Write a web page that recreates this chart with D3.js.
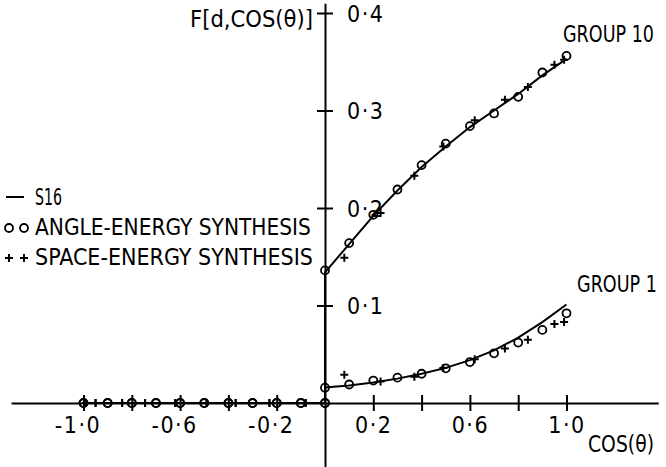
<!DOCTYPE html>
<html>
<head>
<meta charset="utf-8">
<script src="https://cdn.jsdelivr.net/npm/d3@7"></script>
<style>
  body { margin: 0; background: #fff; }
  svg text { font-family: "DejaVu Sans Condensed", "DejaVu Sans", sans-serif; font-stretch: condensed; fill: #000; }
</style>
</head>
<body>
<div id="chart"></div>
<script>
// S16 reference curve
const cosLine = [-1.0, 0.0, 0.0, 0.1, 0.2, 0.3, 0.4, 0.5, 0.6, 0.7, 0.8, 0.9, 1.0];
const s16Group1 = [0, 0, 0.016, 0.018, 0.021, 0.025, 0.030, 0.036, 0.044, 0.054, 0.067, 0.083, 0.101];
const s16Group10 = [0, 0, 0.134, 0.163, 0.192, 0.218, 0.242, 0.263, 0.283, 0.300, 0.317, 0.336, 0.353];

// angle-energy synthesis (circles)
const cosAngle = [-1.0, -0.9, -0.8, -0.7, -0.6, -0.5, -0.4, -0.3, -0.2, -0.1, 0.0,
                  0.0, 0.1, 0.2, 0.3, 0.4, 0.5, 0.6, 0.7, 0.8, 0.9, 1.0];
const angleGroup1 = [0, 0, 0, 0, 0, 0, 0, 0, 0, 0, 0,
                     0.0157, 0.019, 0.023, 0.026, 0.030, 0.0356, 0.042, 0.051, 0.062, 0.075, 0.092];
const angleGroup10 = [0, 0, 0, 0, 0, 0, 0, 0, 0, 0, 0,
                      0.136, 0.164, 0.193, 0.219, 0.244, 0.266, 0.284, 0.297, 0.314, 0.339, 0.356];

// space-energy synthesis (crosses)
const cosSpace = [-0.99, -0.95, -0.84, -0.745, -0.62, -0.49, -0.37, -0.23, -0.08,
                  0.08, 0.23, 0.37, 0.49, 0.62, 0.745, 0.84, 0.95, 0.99];
const spaceGroup1 = [0, 0, 0, 0, 0, 0, 0, 0, 0,
                     0.029, 0.022, 0.027, 0.036, 0.045, 0.056, 0.065, 0.081, 0.083];
const spaceGroup10 = [0, 0, 0, 0, 0, 0, 0, 0, 0,
                      0.149, 0.195, 0.233, 0.263, 0.290, 0.311, 0.324, 0.347, 0.352];

const xTicks = [-1.0, -0.8, -0.6, -0.4, -0.2, 0.2, 0.4, 0.6, 0.8, 1.0];
const xTickLabels = ["-1·0", "", "-0·6", "", "-0·2", "0·2", "", "0·6", "", "1·0"];
const yTicks = [0.1, 0.2, 0.3, 0.4];
const yTickLabels = ["0·1", "0·2", "0·3", "0·4"];
const legendLabels = ["S16", "ANGLE-ENERGY SYNTHESIS", "SPACE-ENERGY SYNTHESIS"];

const width = 666, height = 467;
const svg = d3.select("#chart").append("svg")
    .attr("width", width)
    .attr("height", height);

const x = d3.scaleLinear().domain([-1.3, 1.38]).range([325 - 1.3 * 241.5, 325 + 1.38 * 241.5]);
const y = d3.scaleLinear().domain([-0.066, 0.41]).range([403 + 0.066 * 975, 403 - 0.41 * 975]);

// place a text at (tx, ty) and squeeze it horizontally to the given width
function fitText(g, str, tx, ty, w, anchor) {
    const t = g.append("text").attr("font-size", 23).text(str);
    const nat = t.node().getComputedTextLength();
    const left = anchor === "end" ? tx - w : tx;
    t.attr("transform", `translate(${left},${ty}) scale(${w / nat},1)`);
    return t;
}

// x axis
const xAxis = svg.append("g")
    .attr("transform", `translate(0,${y(0)})`)
    .call(d3.axisBottom(x).tickValues(xTicks).tickSizeOuter(0)
        .tickFormat((d, i) => xTickLabels[i]));
xAxis.select(".domain").attr("stroke-width", 2);
xAxis.selectAll(".tick line").attr("y1", -8).attr("y2", 8).attr("stroke-width", 2);
xAxis.selectAll(".tick text")
    .attr("y", 30).attr("dy", 0)
    .attr("dx", d => d < 0 ? -6 : 0)
    .attr("font-size", 23)
    .style("letter-spacing", "1.5px");

// y axis
const yAxis = svg.append("g")
    .attr("transform", `translate(${x(0)},0)`)
    .call(d3.axisRight(y).tickValues(yTicks).tickSizeOuter(0)
        .tickFormat((d, i) => yTickLabels[i]));
yAxis.select(".domain").attr("stroke-width", 2);
yAxis.selectAll(".tick line").attr("x1", -8).attr("x2", 8).attr("stroke-width", 2);
yAxis.selectAll(".tick text")
    .attr("x", 22).attr("dy", "0.36em")
    .attr("font-size", 23)
    .style("letter-spacing", "1.5px");

// S16 lines
const line = d3.line().x(d => x(d[0])).y(d => y(d[1]));
[s16Group1, s16Group10].forEach(vals => {
    svg.append("path")
        .datum(cosLine.map((c, i) => [c, vals[i]]))
        .attr("d", line)
        .attr("fill", "none")
        .attr("stroke", "#000")
        .attr("stroke-width", 2);
});

// circles
[angleGroup1, angleGroup10].forEach(vals => {
    svg.append("g").selectAll("circle")
        .data(cosAngle.map((c, i) => [c, vals[i]]))
        .enter().append("circle")
        .attr("cx", d => x(d[0]))
        .attr("cy", d => y(d[1]))
        .attr("r", 4)
        .attr("fill", "none")
        .attr("stroke", "#000")
        .attr("stroke-width", 1.8);
});

// crosses
[spaceGroup1, spaceGroup10].forEach(vals => {
    svg.append("g").selectAll("path")
        .data(cosSpace.map((c, i) => [c, vals[i]]))
        .enter().append("path")
        .attr("transform", d => `translate(${x(d[0])},${y(d[1])})`)
        .attr("d", "M-4,0H4M0,-4V4")
        .attr("stroke", "#000")
        .attr("stroke-width", 2);
});

// labels
fitText(svg, "F[d,COS(θ)]", 313, 27, 123, "end");
fitText(svg, "GROUP 10", 563, 42, 91);
fitText(svg, "GROUP 1", 577, 292, 80);
fitText(svg, "COS(θ)", 588, 452, 66);

// legend
const legend = svg.append("g");
legend.append("line").attr("x1", 6).attr("x2", 24).attr("y1", 197).attr("y2", 197)
    .attr("stroke", "#000").attr("stroke-width", 2);
[9, 24].forEach(cx => {
    legend.append("circle").attr("cx", cx).attr("cy", 228).attr("r", 4)
        .attr("fill", "none").attr("stroke", "#000").attr("stroke-width", 1.8);
    legend.append("path").attr("transform", `translate(${cx},258)`)
        .attr("d", "M-4,0H4M0,-4V4").attr("stroke", "#000").attr("stroke-width", 2);
});
const legendWidths = [27, 276, 278];
legendLabels.forEach((t, i) => {
    fitText(legend, t, 35, 205 + i * 30, legendWidths[i]);
});
</script>
</body>
</html>
